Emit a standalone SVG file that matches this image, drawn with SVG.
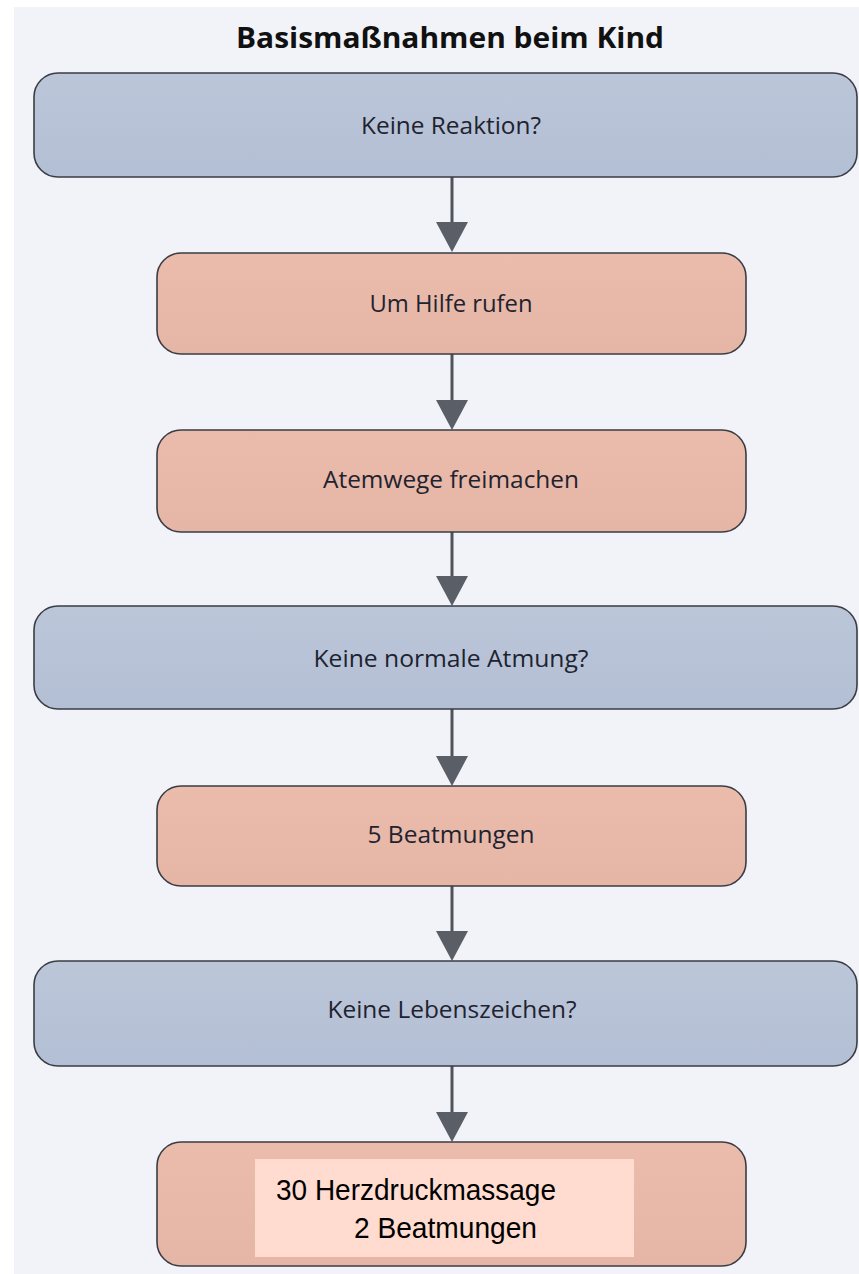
<svg xmlns="http://www.w3.org/2000/svg" width="859" height="1274" viewBox="0 0 859 1274">
<defs>
<style>
.blue{fill:#b8c3d7;stroke:#3a3d44;stroke-width:1.6}
.salmon{fill:#e8b9a9;stroke:#3a3d44;stroke-width:1.6}
.lbl{font-family:"Open Sans","Noto Sans","Liberation Sans",sans-serif;font-size:23px;fill:#1e2330;text-anchor:middle}
.title{font-family:"Open Sans","Noto Sans","Liberation Sans",sans-serif;font-size:28px;font-weight:bold;fill:#111;text-anchor:middle}
.fut{font-family:"Liberation Sans","DejaVu Sans",sans-serif;font-size:29px;fill:#000}
.conn line{stroke:#4f535a;stroke-width:3}
.conn polygon{fill:#5a5e66}
</style>
<linearGradient id="gb" x1="0" y1="0" x2="0" y2="1">
<stop offset="0" stop-color="#bcc6d9"/><stop offset="1" stop-color="#b3bfd4"/>
</linearGradient>
<linearGradient id="gs" x1="0" y1="0" x2="0" y2="1">
<stop offset="0" stop-color="#ebbcac"/><stop offset="1" stop-color="#e5b5a5"/>
</linearGradient>
</defs>
<rect x="0" y="0" width="859" height="1274" fill="#ffffff"/>
<rect x="14" y="7" width="845" height="1267" fill="#f1f3f8"/>
<text class="title" x="450" y="48" textLength="428" lengthAdjust="spacingAndGlyphs">Basismaßnahmen beim Kind</text>

<g id="connectors" class="conn">
<line x1="452" y1="177" x2="452" y2="230"/><polygon points="436,222 468,222 452,252"/>
<line x1="452" y1="354" x2="452" y2="408"/><polygon points="436,400 468,400 452,430"/>
<line x1="452" y1="532" x2="452" y2="584"/><polygon points="436,576 468,576 452,606"/>
<line x1="452" y1="709" x2="452" y2="764"/><polygon points="436,756 468,756 452,786"/>
<line x1="452" y1="886" x2="452" y2="939"/><polygon points="436,931 468,931 452,961"/>
<line x1="452" y1="1066" x2="452" y2="1120"/><polygon points="436,1112 468,1112 452,1142"/>
</g>

<g id="n1">
<rect class="blue" x="34" y="73" width="823" height="104" rx="24" style="fill:url(#gb)"/>
<text class="lbl" x="451" y="134" textLength="180" lengthAdjust="spacingAndGlyphs">Keine Reaktion?</text>
</g>
<g id="n2">
<rect class="salmon" x="157" y="253" width="589" height="101" rx="24" style="fill:url(#gs)"/>
<text class="lbl" x="451" y="312" textLength="163" lengthAdjust="spacingAndGlyphs">Um Hilfe rufen</text>
</g>
<g id="n3">
<rect class="salmon" x="157" y="430" width="589" height="102" rx="24" style="fill:url(#gs)"/>
<text class="lbl" x="451" y="488" textLength="256" lengthAdjust="spacingAndGlyphs">Atemwege freimachen</text>
</g>
<g id="n4">
<rect class="blue" x="34" y="606" width="823" height="103" rx="24" style="fill:url(#gb)"/>
<text class="lbl" x="451" y="667" textLength="275" lengthAdjust="spacingAndGlyphs">Keine normale Atmung?</text>
</g>
<g id="n5">
<rect class="salmon" x="157" y="786" width="589" height="100" rx="24" style="fill:url(#gs)"/>
<text class="lbl" x="451" y="843" textLength="167" lengthAdjust="spacingAndGlyphs">5 Beatmungen</text>
</g>
<g id="n6">
<rect class="blue" x="34" y="961" width="823" height="105" rx="24" style="fill:url(#gb)"/>
<text class="lbl" x="452" y="1018" textLength="249" lengthAdjust="spacingAndGlyphs">Keine Lebenszeichen?</text>
</g>
<g id="n7">
<rect class="salmon" x="157" y="1142" width="589" height="124" rx="24" style="fill:url(#gs)"/>
<rect x="255" y="1159" width="379" height="98" fill="#ffdccf"/>
<text class="fut" x="276" y="1200" textLength="280" lengthAdjust="spacingAndGlyphs">30 Herzdruckmassage</text>
<text class="fut" x="354" y="1238" textLength="183" lengthAdjust="spacingAndGlyphs">2 Beatmungen</text>
</g>
</svg>
